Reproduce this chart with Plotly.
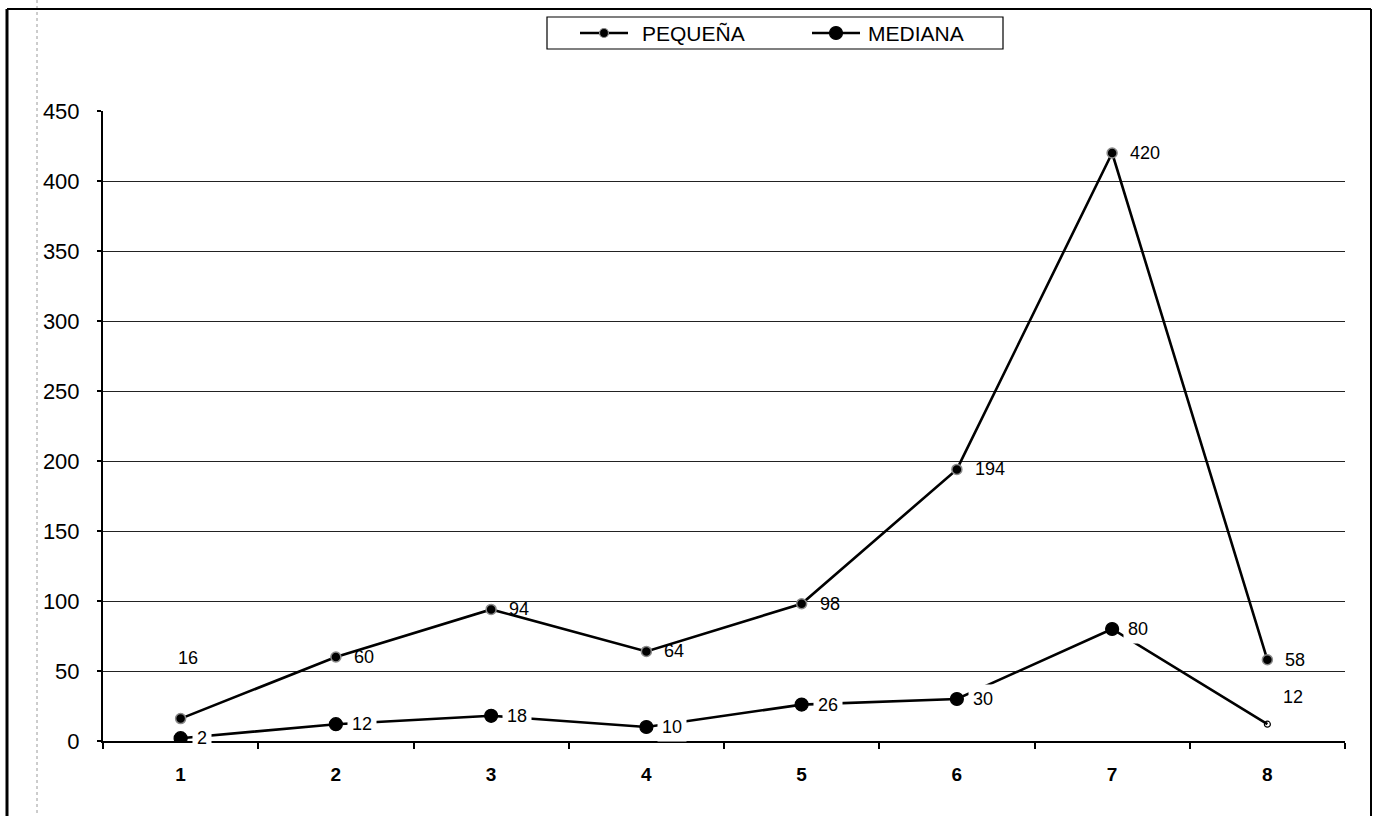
import plotly.graph_objects as go

# Category labels and series values
categories = ["1", "2", "3", "4", "5", "6", "7", "8"]
pequena = [16, 60, 94, 64, 98, 194, 420, 58]
mediana = [2, 12, 18, 10, 26, 30, 80, 12]
y_ticks = [0, 50, 100, 150, 200, 250, 300, 350, 400, 450]
series_names = ["PEQUEÑA", "MEDIANA"]

FONT = "Liberation Sans, Arial, sans-serif"

# pixel geometry of the plotting area inside the 1373x816 page
L, R, T, B = 103, 1345, 111, 741
W, H = 1373, 816


def px_x(px):
    return (px - L) / (R - L)


def px_y(py):
    return (B - py) / (B - T)


fig = go.Figure()

fig.add_trace(go.Scatter(
    x=categories, y=pequena, name=series_names[0], mode="lines+markers",
    showlegend=False,
    line=dict(color="black", width=2.6),
    marker=dict(color="black", size=10, opacity=1,
                line=dict(color="#8a8a8a", width=1.5)),
))

med_symbols = ["circle"] * 7 + ["circle-open"]
med_sizes = [13] * 7 + [6]
fig.add_trace(go.Scatter(
    x=categories, y=mediana, name=series_names[1], mode="lines+markers",
    showlegend=False,
    line=dict(color="black", width=2.6),
    marker=dict(color="black", size=med_sizes, symbol=med_symbols, opacity=1,
                line=dict(color="black", width=1.2)),
))

LABEL_FONT = dict(family=FONT, size=18, color="black")
annotations = []
# labels for the small-company series (transparent background)
for i, v in enumerate(pequena):
    if i == 0:
        annotations.append(dict(x=i, y=v, text=str(v), showarrow=False,
                                xanchor="center", yanchor="middle",
                                xshift=7, yshift=61, font=LABEL_FONT))
    else:
        annotations.append(dict(x=i, y=v, text=str(v), showarrow=False,
                                xanchor="left", yanchor="middle",
                                xshift=16, yshift=0, font=LABEL_FONT))

# labels for the medium-company series (white box masks the line behind)
for i, v in enumerate(mediana):
    ys = 27 if i == 7 else 0
    annotations.append(dict(x=i, y=v, text=str(v), showarrow=False,
                            xanchor="left", yanchor="middle",
                            xshift=11, yshift=ys, bgcolor="white", borderpad=4,
                            font=LABEL_FONT))

# legend drawn as a framed box with line samples and markers
LEG_TOP, LEG_BOT = 17, 49
LEG_MID = (LEG_TOP + LEG_BOT) / 2
LEG_FONT = dict(family=FONT, size=21, color="black")
legend_items = [
    (series_names[0], 580, 628, 9, "#8a8a8a", 640),
    (series_names[1], 812, 860, 13, "black", 866),
]

shapes = [
    dict(type="rect", xref="paper", yref="paper",
         x0=px_x(547), x1=px_x(1003), y0=px_y(LEG_BOT), y1=px_y(LEG_TOP),
         line=dict(color="black", width=1.2), fillcolor="white"),
]
for name, lx0, lx1, msize, edge, tx in legend_items:
    shapes.append(dict(type="line", xref="paper", yref="paper",
                       x0=px_x(lx0), x1=px_x(lx1),
                       y0=px_y(LEG_MID), y1=px_y(LEG_MID),
                       line=dict(color="black", width=2.6)))
    cx = (lx0 + lx1) / 2
    shapes.append(dict(type="circle", xref="paper", yref="paper",
                       xsizemode="pixel", ysizemode="pixel",
                       xanchor=px_x(cx), yanchor=px_y(LEG_MID),
                       x0=-msize / 2, x1=msize / 2, y0=-msize / 2, y1=msize / 2,
                       fillcolor="black", line=dict(color=edge, width=1.2)))
    annotations.append(dict(xref="paper", yref="paper", x=px_x(tx),
                            y=px_y(LEG_MID), text=name, showarrow=False,
                            xanchor="left", yanchor="middle", font=LEG_FONT))

# outer frame of the sheet
shapes += [
    dict(type="line", xref="paper", yref="paper",
         x0=px_x(7), x1=px_x(7), y0=px_y(9), y1=px_y(W),
         line=dict(color="black", width=3)),
    dict(type="line", xref="paper", yref="paper",
         x0=px_x(37), x1=px_x(37), y0=px_y(0), y1=px_y(W),
         line=dict(color="#9a9a9a", width=1, dash="dot")),
    dict(type="line", xref="paper", yref="paper",
         x0=px_x(7), x1=px_x(1371), y0=px_y(9), y1=px_y(9),
         line=dict(color="black", width=2)),
    dict(type="line", xref="paper", yref="paper",
         x0=px_x(1371), x1=px_x(1371), y0=px_y(9), y1=px_y(W),
         line=dict(color="black", width=2)),
]

fig.update_layout(
    width=W, height=H,
    margin=dict(l=L, r=W - R, t=T, b=H - B, pad=0),
    paper_bgcolor="white", plot_bgcolor="white",
    font=dict(family=FONT, size=17, color="black"),
    showlegend=False,
    annotations=annotations, shapes=shapes,
    xaxis=dict(type="category", categoryorder="array", categoryarray=categories,
               range=[-0.5, len(categories) - 0.5],
               showgrid=False, showline=True, linecolor="black", linewidth=1.5,
               ticks="outside", tickson="boundaries", ticklen=6,
               tickcolor="black", tickwidth=1.5,
               tickfont=dict(family=FONT, size=19, color="black", weight="bold"),
               ticklabelstandoff=15, zeroline=False),
    yaxis=dict(range=[0, 450], tickvals=y_ticks,
               showgrid=True, gridcolor="#222222", gridwidth=1,
               showline=True, linecolor="black", linewidth=2,
               ticks="outside", ticklen=4, tickcolor="black", tickwidth=1.5,
               tickfont=dict(family=FONT, size=22, color="black"),
               ticklabelstandoff=13, zeroline=False),
)

fig.write_html("out.html")
